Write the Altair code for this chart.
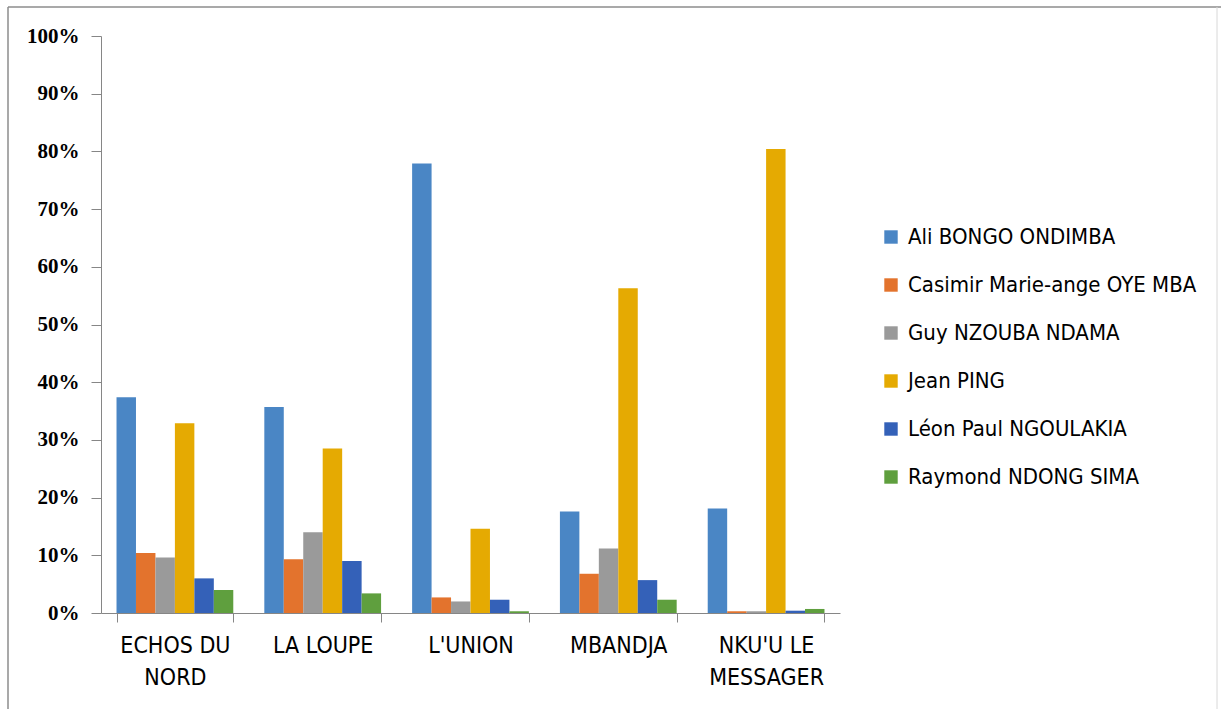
import altair as alt
import pandas as pd

categories = ["ECHOS DU NORD", "LA LOUPE", "L'UNION", "MBANDJA", "NKU'U LE MESSAGER"]
category_lines = {
    "ECHOS DU NORD": ["ECHOS DU", "NORD"],
    "LA LOUPE": ["LA LOUPE"],
    "L'UNION": ["L'UNION"],
    "MBANDJA": ["MBANDJA"],
    "NKU'U LE MESSAGER": ["NKU'U LE", "MESSAGER"],
}
series = [
    "Ali BONGO ONDIMBA",
    "Casimir Marie-ange OYE MBA",
    "Guy NZOUBA NDAMA",
    "Jean PING",
    "Léon Paul NGOULAKIA",
    "Raymond NDONG SIMA",
]
colors = ["#4A86C5", "#E3732D", "#9A9A9A", "#E5AA02", "#3461B8", "#5F9F3E"]

ali = [0.374, 0.357, 0.779, 0.176, 0.181]
casimir = [0.104, 0.093, 0.027, 0.068, 0.003]
guy = [0.096, 0.140, 0.020, 0.112, 0.003]
jean = [0.329, 0.285, 0.146, 0.563, 0.804]
leon = [0.060, 0.090, 0.023, 0.057, 0.004]
raymond = [0.040, 0.034, 0.003, 0.023, 0.007]

values = [ali, casimir, guy, jean, leon, raymond]
rows = []
for s, vals in zip(series, values):
    for c, v in zip(categories, vals):
        rows.append({"media": c, "candidate": s, "share": v})
df = pd.DataFrame(rows)

label_expr = ""
for c in categories:
    lines = ",".join("'" + l.replace("'", "\\'") + "'" for l in category_lines[c])
    label_expr += "datum.value == '" + c.replace("'", "\\'") + "' ? [" + lines + "] : "
label_expr += "datum.label"

narrow = "'DejaVu Sans Condensed', 'Liberation Sans Narrow', 'Liberation Sans', sans-serif"

bars = alt.Chart(df).mark_bar().encode(
    x=alt.X("media:N", sort=categories, title=None,
            scale=alt.Scale(paddingInner=0.21, paddingOuter=0.105),
            axis=alt.Axis(labelAngle=0, labelExpr=label_expr, tickBand="extent",
                          labelFont=narrow, labelFontSize=23,
                          labelColor="#000000", labelLineHeight=32, labelPadding=12,
                          tickSize=9, tickColor="#868686", domainColor="#868686",
                          labelBaseline="top")),
    xOffset=alt.XOffset("candidate:N", sort=series),
    y=alt.Y("share:Q", title=None,
            scale=alt.Scale(domain=[0, 1], nice=False),
            axis=alt.Axis(format=".0%", values=[i / 10 for i in range(11)], grid=False,
                          labelFont="Liberation Serif", labelFontWeight="bold",
                          labelFontSize=21, labelColor="#000000", labelPadding=12,
                          tickSize=10, tickColor="#868686", domainColor="#868686")),
    color=alt.Color("candidate:N", sort=series,
                    scale=alt.Scale(domain=series, range=colors),
                    legend=alt.Legend(title=None, orient="none", legendX=779, legendY=190,
                                      symbolType="square", symbolSize=180,
                                      symbolStrokeWidth=0, padding=0,
                                      labelFont=narrow, labelFontSize=22,
                                      labelColor="#000000", labelOffset=6,
                                      rowPadding=26, labelLimit=400)),
)

frame_data = alt.Data(values=[{"k": 1}])
left_border = alt.Chart(frame_data).mark_rule(color="#8C8C8C", strokeWidth=1.5).encode(
    x=alt.value(-93), y=alt.value(-29), y2=alt.value(673))
top_border = alt.Chart(frame_data).mark_rule(color="#8C8C8C", strokeWidth=1.5).encode(
    x=alt.value(-93), x2=alt.value(1120), y=alt.value(-29))
right_border = alt.Chart(frame_data).mark_rule(color="#D8D8D8", strokeWidth=1).encode(
    x=alt.value(1116), y=alt.value(-29), y2=alt.value(673))

chart = alt.layer(bars, left_border, top_border, right_border).properties(
    width=739, height=577,
    padding={"left": 101, "top": 36, "right": 381, "bottom": 96},
    autosize=alt.AutoSizeParams(type="none"),
    background="#FFFFFF",
).configure_view(stroke=None)

chart.save("out.html", embed_options={"renderer": "svg", "actions": False})
